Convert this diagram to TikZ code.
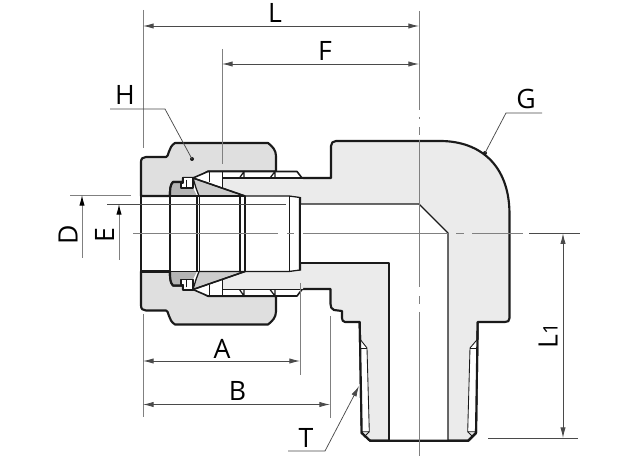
\documentclass[tikz,border=0pt]{standalone}
\usepackage{fontspec}
\setmainfont{Open Sans}
\usetikzlibrary{arrows.meta}
\definecolor{bodyfill}{HTML}{EBEBEB}
\definecolor{nutfill}{HTML}{DFDFDF}
\definecolor{wedgefill}{HTML}{CDCDCD}
\definecolor{ringfill}{HTML}{B4B4B4}
\definecolor{inkline}{HTML}{1A1A1A}
\definecolor{dimline}{HTML}{4A4A4A}
\definecolor{extline}{HTML}{808080}
\tikzset{
  heavy/.style={draw=inkline,line width=1.6pt,line join=round},
  firm/.style={draw=inkline,line width=1.2pt,line join=round},
  medium/.style={draw=inkline,line width=0.95pt,line join=round},
  fineink/.style={draw=inkline,line width=0.65pt},
  extension/.style={draw=extline,line width=0.7pt},
  leader/.style={draw=dimline,line width=0.55pt},
  dimension/.style={draw=dimline,line width=0.65pt,{Latex[length=8pt,width=4pt]}-{Latex[length=8pt,width=4pt]}},
  onehead/.style={draw=extline,line width=0.7pt,-{Latex[length=8pt,width=4pt,color=black]}},
  tag/.style={inner sep=0pt,text=black,font=\fontsize{20}{20}\selectfont},
  pin/.style={circle,fill=inkline,inner sep=0pt,minimum size=3pt}
}
\newcommand{\fittinghalf}{%
  % nut
  \path[heavy,fill=nutfill] (141,196) -- (141,162) .. controls (141,158.5) and (143,157) .. (146,157)
    -- (166,157) .. controls (169,157) and (168,147) .. (175,143) -- (268,143)
    .. controls (272,146) and (276,150) .. (276,156) -- (276,171.5) -- (208,171.5) -- (197,178)
    -- (183,178) -- (183,182) -- (173,182) .. controls (170,185) and (170,190) .. (170,196) -- cycle;
  % thread slot
  \path[fill=white] (208,171.5) -- (297,171.5) -- (302,178) -- (193,178) -- cycle;
  % nose of the body
  \path[fill=bodyfill] (222,178) -- (303,178) -- (303,197) -- (245,196) -- (222,188) -- cycle;
  % back ring
  \path[fill=ringfill] (170,196) .. controls (170,190) and (170,185) .. (173,182) -- (183,182) -- (183,187) -- (193,188) -- (197,196) -- cycle;
  \path[heavy] (183,182) -- (173,182) .. controls (170,185) and (170,190) .. (170,196);
  % white step square
  \path[medium,fill=white] (183,177.5) -- (193,177.5) -- (193,188) -- (181,188) -- (181,183) -- (183,183) -- cycle;
  \path[fineink] (186,180) -- (186,187);
  % white gap over the wedge
  \path[fill=white] (193,178) -- (208,171.5) -- (222,171.5) -- (222,188) -- cycle;
  % wedge
  \path[medium,fill=wedgefill] (193,178) -- (245,196) -- (199,196) -- (196,188) -- cycle;
  \path[firm] (193,178) -- (245,196);
  % slot outlines
  \path[firm] (208,171.5) -- (297,171.5) -- (302,178);
  \path[firm] (222,178) -- (331,178);
  \path[firm] (193,178) -- (208,171.5);
  \path[fineink] (209,171.5) -- (209,182);
  \path[fineink] (222,171.5) -- (222,188);
  \path[medium] (239.5,178) -- (244,171.5) -- (244,178);
  \path[medium] (270,178) -- (275,171.5) -- (275,178);
  % tube lines
  \path[heavy] (141,196) -- (170,196);
  \path[medium] (170,196) -- (197,196);
  \path[firm] (197,196) -- (245,196);
  \path[medium] (245,196) -- (289,196) -- (300,197.5);
}
\begin{document}
\begin{tikzpicture}[x=0.75pt,y=-0.75pt]
\useasboundingbox (0,0) rectangle (644,470);
% elbow body
\path[heavy,fill=bodyfill] (300,178) -- (331,178) -- (331,146) .. controls (331,143) and (333,141) .. (336,141)
  -- (440,141) .. controls (480,141) and (509,165) .. (509.5,213) -- (509.5,318) .. controls (509.5,321) and (508,322) .. (505,322)
  -- (477.7,322) -- (476,433) -- (468.3,440.7) -- (370,440.7) -- (361.7,433) -- (359.7,322) -- (345,322)
  .. controls (343,322) and (342,320) .. (342,318) -- (342,311) -- (334,310) .. controls (331.5,309) and (330.5,307) .. (330.5,304)
  -- (330.5,289) -- (300,289) -- cycle;
% thread bands
\path[fill=white] (360.7,340) -- (367,348) -- (369.3,431.7) -- (361.7,431.7) -- cycle;
\path[fill=white] (476.8,340) -- (470,348) -- (467.7,431.7) -- (476,431.7) -- cycle;
\path[fineink] (360.7,340) -- (367,348) -- (369.3,431.7) -- (361.7,431.7);
\path[fineink] (361,348) -- (367,348);
\path[fineink] (476.8,340) -- (470,348) -- (467.7,431.7) -- (476,431.7);
\path[fineink] (476.5,348) -- (470,348);
\path[fineink] (369.3,431.7) -- (364,437);
\path[fineink] (467.7,431.7) -- (473,437);
% bore
\path[fill=white] (300,204) -- (419,204) -- (448,233) -- (448,440) -- (389,440) -- (389,263) -- (300,263) -- cycle;
\path[medium] (300,204) -- (419,204) -- (448,233) -- (448,440);
\path[medium] (300,263) -- (389,263) -- (389,440);
\path[heavy] (477.7,322) -- (476,433) -- (468.3,440.7) -- (370,440.7) -- (361.7,433) -- (359.7,322);
% fitting, mirrored about the axis
\fittinghalf
\begin{scope}[cm={1,0,0,-1,(0,467.5)}]
\fittinghalf
\end{scope}
% tube walls
\path[heavy] (141,196) -- (141,272);
\path[medium] (170,196) -- (170,272);
\path[medium] (197,196) -- (197,272);
\path[fineink] (199.5,196) -- (199.5,272);
\path[medium] (240,196) -- (240,272);
\path[medium] (245,196) -- (245,272);
\path[fineink] (289,196) -- (289,271.5);
\path[medium] (300,197) -- (300,270.5);
% axes
\path[extension] (133,233.3) -- (278,233.3) (287,233.3) -- (294,233.3) (303,233.3) -- (448,233.3)
  (456,233.3) -- (464,233.3) (472,233.3) -- (523,233.3);
\path[extension,draw=dimline] (529,233.3) -- (580,233.3);
\path[extension] (419,11) -- (419,110) (419,117) -- (419,119) (419,127) -- (419,135) (419,140) -- (419,287)
  (419,296) -- (419,304) (419,312) -- (419,456);
% dimension anchors
\coordinate (Lleft) at (143,26); \coordinate (Lright) at (419,26);
\coordinate (Fleft) at (222,64); \coordinate (Fright) at (419,64);
\coordinate (Aleft) at (143,361); \coordinate (Aright) at (300,361);
\coordinate (Bleft) at (143,404.5); \coordinate (Bright) at (330,404.5);
\coordinate (Ltop) at (563,233.3); \coordinate (Lbot) at (563,438);
\coordinate (Dhead) at (82,195); \coordinate (Dtail) at (82,258);
\coordinate (Ehead) at (119,204); \coordinate (Etail) at (119,260);
% extension lines
\path[extension] (143,10) -- (143,148);
\path[extension] (143,314) -- (143,417);
\path[extension] (222,49) -- (222,164);
\path[extension] (300,283) -- (300,375);
\path[extension] (330,316) -- (330,418);
\path[extension] (70,195) -- (131,195);
\path[extension,draw=dimline] (107,204) -- (286,204);
\path[leader] (488,438) -- (578,438);
% dimensions
\path[dimension] (Lleft) -- (Lright);
\path[dimension] (Fleft) -- (Fright);
\path[dimension] (Aleft) -- (Aright);
\path[dimension] (Bleft) -- (Bright);
\path[dimension] (Ltop) -- (Lbot);
\path[onehead] (Dtail) -- (Dhead);
\path[onehead] (Etail) -- (Ehead);
% leaders
\node[pin] (Hdot) at (192,159) {};
\node[pin] (Gdot) at (485,153) {};
\coordinate (Hend) at (110,109); \coordinate (Hbend) at (165,109);
\coordinate (Gend) at (542,113); \coordinate (Gbend) at (506,113);
\coordinate (Tend) at (288,451); \coordinate (Tbend) at (325,451); \coordinate (Thead) at (359,386);
\path[leader] (Hend) -- (Hbend) -- (Hdot.center);
\path[leader] (Gend) -- (Gbend) -- (Gdot.center);
\path[leader,-{Latex[length=8pt,width=4pt]}] (Tend) -- (Tbend) -- (Thead);
% labels
\node[tag] (tL) at (275,12.5) {L};
\node[tag] (tF) at (325,51) {F};
\node[tag] (tH) at (125,95) {H};
\node[tag] (tG) at (526,99) {G};
\node[tag] (tA) at (222,349) {A};
\node[tag] (tB) at (237.5,390.5) {B};
\node[tag] (tT) at (306,438) {T};
\node[tag,rotate=90] (tD) at (68,235) {D};
\node[tag,rotate=90] (tE) at (104.5,235) {E};
\node[tag,rotate=90] (tL1) at (548,336) {L{\fontsize{15}{15}\selectfont 1}};
\end{tikzpicture}
\end{document}
